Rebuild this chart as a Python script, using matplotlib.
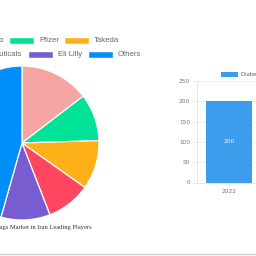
import matplotlib
matplotlib.use("Agg")
import matplotlib.pyplot as plt
import matplotlib.patches as patches
from matplotlib.lines import Line2D

# pie data (share of market, %), drawn clockwise from 12 o'clock
players = ["Daiichi Sankyo", "Pfizer", "Takeda", "Teva Pharmaceuticals", "Eli Lilly", "Others"]
shares = [14.6, 9.9, 10.3, 9.3, 10.3, 45.6]
colors = ["#F7A4A4", "#00E396", "#FEB019", "#FF4560", "#775DD0", "#008FFB"]

# bar data
years = ["2022"]
market_size = [200]
bar_color = "#3B9DEB"
bar_series = "Diabetes Drugs Market in Iran"

W = H = 256


def px(x, y):
    # pixel coords (top-left origin) -> figure fraction
    return x / W, 1 - y / H


fig = plt.figure(figsize=(2.56, 2.56), dpi=100)
fig.patch.set_facecolor("white")

# ---- pie ----
cx, cy, r = 22, 143, 77
ax = fig.add_axes([(cx - r) / W, (H - cy - r) / H, 2 * r / W, 2 * r / H])
ax.pie(shares, colors=colors, startangle=90, counterclock=False, radius=1,
       wedgeprops=dict(edgecolor="white", linewidth=0.9))
ax.set_xlim(-1, 1)
ax.set_ylim(-1, 1)
ax.set_aspect("equal")
ax.axis("off")

# pie legend (two rows, left part cropped off)
rows = [
    [(players[0], colors[0], None, 3), (players[1], colors[1], 10, None), (players[2], colors[2], 65, None)],
    [(players[3], colors[3], None, 21), (players[4], colors[4], 29, None), (players[5], colors[5], 89, None)],
]
row_y = [41, 55]
for row, y in zip(rows, row_y):
    for name, col, bx, text_end in row:
        if bx is not None:
            x0, y0 = px(bx, y + 3)
            fig.patches.append(patches.Rectangle((x0, y0), 24 / W, 6 / H, transform=fig.transFigure,
                                                 facecolor=col, edgecolor="white", linewidth=0.3))
            tx, ty = px(bx + 29, y)
            fig.text(tx, ty, name, fontsize=5.6, color="#666666", family="Liberation Sans",
                     ha="left", va="center")
        else:
            tx, ty = px(text_end, y)
            fig.text(tx, ty, name, fontsize=5.6, color="#666666", family="Liberation Sans",
                     ha="right", va="center")

tx, ty = px(92, 227)
fig.text(tx, ty, "Diabetes Drugs Market in Iran Leading Players", fontsize=4.7, color="#333333",
         family="Liberation Serif", ha="right", va="center")

# ---- bar ----
left, right, top, bottom = 197, 261, 81, 182.5
bx = fig.add_axes([left / W, (H - bottom) / H, (right - left) / W, (bottom - top) / H])
bars = bx.bar(years, market_size, width=0.72, color=bar_color)
bx.set_ylim(0, 250)
bx.set_xlim(-0.5, 0.5)
bx.set_yticks([0, 50, 100, 150, 200, 250])
bx.grid(axis="y", color="#e8e8e8", linewidth=0.5)
bx.set_axisbelow(True)
for s in ["top", "right"]:
    bx.spines[s].set_visible(False)
for s in ["left", "bottom"]:
    bx.spines[s].set_color("#dddddd")
    bx.spines[s].set_linewidth(0.5)
bx.tick_params(axis="both", labelsize=4.2, labelcolor="#777777", color="#dddddd",
               length=3, width=0.5, pad=2)
for b, v in zip(bars, market_size):
    bx.text(b.get_x() + b.get_width() / 2, v / 2, str(v), ha="center", va="center",
            fontsize=4.2, color="#eaf4ff")

x0, y0 = px(221, 77)
fig.patches.append(patches.Rectangle((x0, y0), 17 / W, 5 / H, transform=fig.transFigure,
                                     facecolor=bar_color))
tx, ty = px(241, 74.5)
fig.text(tx, ty, bar_series, fontsize=4.2, color="#666666", family="Liberation Sans",
         ha="left", va="center")

# bottom border
fig.lines.append(Line2D([0, 1], [1 - 254 / H] * 2, transform=fig.transFigure,
                        color="#cccccc", linewidth=1))

fig.savefig("out.png", dpi=100)
